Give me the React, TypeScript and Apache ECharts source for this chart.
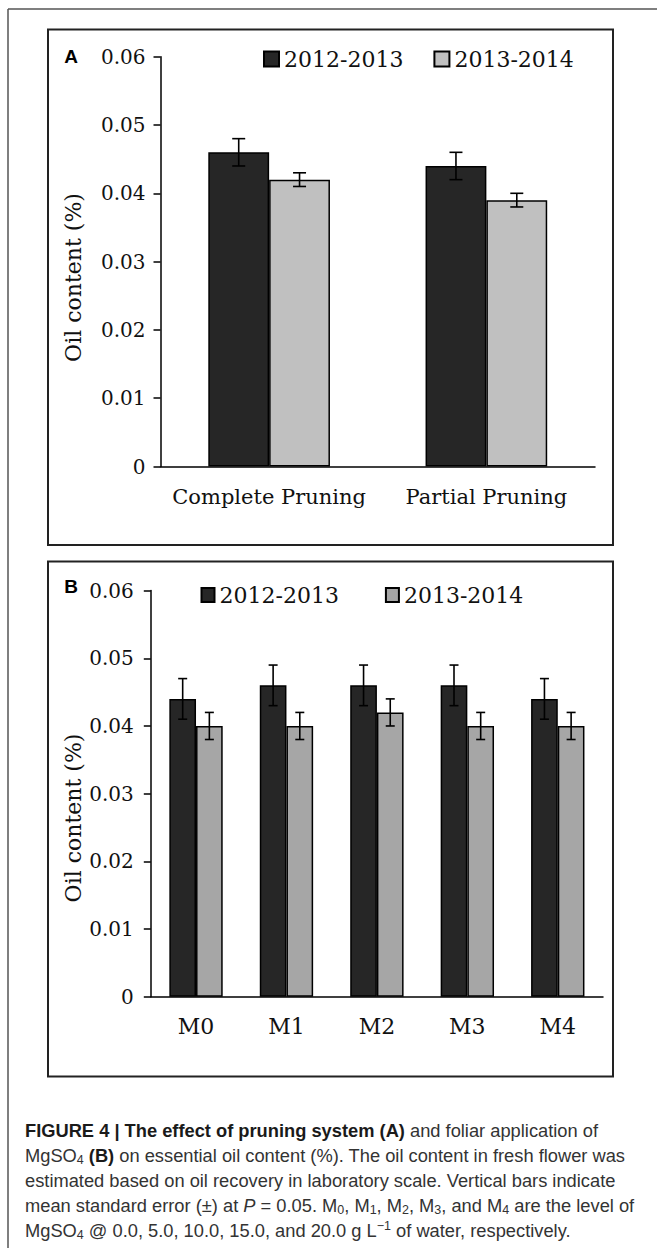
import React, { useEffect, useRef } from "react";
import * as echarts from "echarts";

// ---------- data ----------
const categoriesA = ["Complete Pruning", "Partial Pruning"];
const seasonNames = ["2012-2013", "2013-2014"];
const a2012 = [0.046, 0.044];
const a2012Err = [0.002, 0.002];
const a2013 = [0.042, 0.039];
const a2013Err = [0.001, 0.001];

const categoriesB = ["M0", "M1", "M2", "M3", "M4"];
const b2012 = [0.044, 0.046, 0.046, 0.046, 0.044];
const b2012Err = [0.003, 0.003, 0.003, 0.003, 0.003];
const b2013 = [0.04, 0.04, 0.042, 0.04, 0.04];
const b2013Err = [0.002, 0.002, 0.002, 0.002, 0.002];

const yMin = 0;
const yMax = 0.06;
const yStep = 0.01;

const captionLines = [
  "{b|FIGURE 4 | The effect of pruning system (A)} and foliar application of",
  "MgSO{sub|4} {b|(B)} on essential oil content (%). The oil content in fresh flower was",
  "estimated based on oil recovery in laboratory scale. Vertical bars indicate",
  "mean standard error (±) at {i|P} = 0.05. M{sub|0}, M{sub|1}, M{sub|2}, M{sub|3}, and M{sub|4} are the level of",
  "MgSO{sub|4} @ 0.0, 5.0, 10.0, 15.0, and 20.0 g L{sup|−1} of water, respectively.",
];

// ---------- styles ----------
const SERIF = "DejaVu Serif";
const SANS = "Liberation Sans";
const DARK = "#262626";
const LIGHT_A = "#c0c0c0";
const LIGHT_B = "#a6a6a6";
const GAP_A = 0.44;
const GAP_B = 0.41;
const CAP_FS = 18.3;

function errRenderer(side: number, gap: number, cap: number) {
  return (params: any, api: any) => {
    const idx = api.value(0);
    const v = api.value(1);
    const e = api.value(2);
    const band = api.size([1, 0])[0];
    const bw = (band * (1 - gap)) / 2;
    const c = api.coord([idx, v]);
    const x = c[0] + (side * bw) / 2;
    const yt = api.coord([idx, v + e])[1];
    const yb = api.coord([idx, v - e])[1];
    const style = { stroke: "#000", lineWidth: 1.6 };
    return {
      type: "group",
      children: [
        { type: "line", shape: { x1: x, y1: yt, x2: x, y2: yb }, style },
        { type: "line", shape: { x1: x - cap, y1: yt, x2: x + cap, y2: yt }, style },
        { type: "line", shape: { x1: x - cap, y1: yb, x2: x + cap, y2: yb }, style },
      ],
    };
  };
}

function xAxisCfg(grid: number, data: string[], fontSize: number, margin: number) {
  return {
    type: "category",
    gridIndex: grid,
    data,
    axisLine: { lineStyle: { color: "#000", width: 1.5 } },
    axisTick: { length: 7, lineStyle: { color: "#000", width: 1.5 } },
    axisLabel: { interval: 0, hideOverlap: false, fontFamily: SERIF, fontSize, color: "#111", margin },
  };
}

function yAxisCfg(grid: number, margin: number) {
  return {
    type: "value",
    gridIndex: grid,
    min: yMin,
    max: yMax,
    interval: yStep,
    splitLine: { show: false },
    axisLine: { show: true, lineStyle: { color: "#000", width: 1.5 } },
    axisTick: { show: true, length: 7, lineStyle: { color: "#000", width: 1.5 } },
    axisLabel: {
      fontFamily: SERIF,
      fontSize: 20,
      color: "#111",
      margin,
      formatter: (v: number) => (Math.abs(v) < 1e-9 ? "0" : v.toFixed(2)),
    },
  };
}

function barSeries(name: string, grid: number, data: number[], color: string, gap: number) {
  return {
    type: "bar",
    name,
    xAxisIndex: grid,
    yAxisIndex: grid,
    data,
    barGap: "0%",
    barCategoryGap: Math.round(gap * 100) + "%",
    itemStyle: { color, borderColor: "#000", borderWidth: 1.5 },
  };
}

function errSeries(grid: number, vals: number[], errs: number[], side: number, gap: number, cap: number) {
  return {
    type: "custom",
    xAxisIndex: grid,
    yAxisIndex: grid,
    z: 5,
    renderItem: errRenderer(side, gap, cap),
    encode: { x: 0, y: 1 },
    data: vals.map((v, i) => [i, v, errs[i]]),
  };
}

export default function App() {
  const ref = useRef<HTMLDivElement>(null);
  useEffect(() => {
    document.body.style.margin = "0";
    if (!ref.current) return;
    const chart = echarts.init(ref.current, undefined, { renderer: "svg" });

    const captionGraphics = captionLines.map((t, i) => ({
      type: "text",
      x: 25,
      y: 1130 + i * 25,
      style: {
        text: t,
        fontFamily: SANS,
        fontSize: CAP_FS,
        fill: "#333",
        align: "left",
        verticalAlign: "middle",
        lineHeight: 22,
        rich: {
          b: { fontFamily: SANS, fontSize: CAP_FS, fontWeight: "bold", fill: "#1a1a1a", lineHeight: 22 },
          i: { fontFamily: SANS, fontSize: CAP_FS, fontStyle: "italic", fill: "#333", lineHeight: 22 },
          sub: { fontFamily: SANS, fontSize: 12.5, fill: "#333", lineHeight: 12, verticalAlign: "bottom" },
          sup: { fontFamily: SANS, fontSize: 12.5, fill: "#333", lineHeight: 16, verticalAlign: "top" },
        },
      },
    }));

    const option: any = {
      animation: false,
      backgroundColor: "#fff",
      textStyle: { fontFamily: SERIF },
      grid: [
        { left: 160.5, top: 56.7, width: 434.5, height: 409.8, outerBoundsMode: "none", containLabel: false },
        { left: 150.8, top: 590.6, width: 452.2, height: 406.1, outerBoundsMode: "none", containLabel: false },
      ],
      xAxis: [xAxisCfg(0, categoriesA, 21, 20), xAxisCfg(1, categoriesB, 22, 19)],
      yAxis: [yAxisCfg(0, 15), yAxisCfg(1, 17)],
      legend: [
        {
          left: 263,
          top: 48,
          padding: 0,
          itemWidth: 15,
          itemHeight: 15,
          itemGap: 30,
          icon: "rect",
          selectedMode: false,
          data: [
            { name: seasonNames[0], itemStyle: { color: DARK } },
            { name: seasonNames[1], itemStyle: { color: LIGHT_A } },
          ],
          textStyle: { fontFamily: SERIF, fontSize: 22, color: "#111" },
        },
        {
          left: 200.5,
          top: 584,
          padding: 0,
          itemWidth: 13,
          itemHeight: 14,
          itemGap: 46,
          icon: "rect",
          selectedMode: false,
          data: [
            { name: seasonNames[0], itemStyle: { color: DARK } },
            { name: seasonNames[1], itemStyle: { color: LIGHT_B } },
          ],
          textStyle: { fontFamily: SERIF, fontSize: 22, color: "#111" },
        },
      ],
      series: [
        barSeries(seasonNames[0], 0, a2012, DARK, GAP_A),
        barSeries(seasonNames[1], 0, a2013, LIGHT_A, GAP_A),
        barSeries(seasonNames[0], 1, b2012, DARK, GAP_B),
        barSeries(seasonNames[1], 1, b2013, LIGHT_B, GAP_B),
        errSeries(0, a2012, a2012Err, -1, GAP_A, 6.5),
        errSeries(0, a2013, a2013Err, 1, GAP_A, 6.5),
        errSeries(1, b2012, b2012Err, -1, GAP_B, 4.5),
        errSeries(1, b2013, b2013Err, 1, GAP_B, 4.5),
      ],
      graphic: [
        { type: "line", shape: { x1: 8, y1: 9, x2: 657, y2: 9 }, style: { stroke: "#555", lineWidth: 1.5 } },
        { type: "line", shape: { x1: 8, y1: 9, x2: 8, y2: 1248 }, style: { stroke: "#555", lineWidth: 1.5 } },
        { type: "rect", shape: { x: 48, y: 29.5, width: 565, height: 515.5 }, style: { fill: "none", stroke: "#222", lineWidth: 2 } },
        { type: "rect", shape: { x: 48, y: 561.5, width: 565, height: 515 }, style: { fill: "none", stroke: "#222", lineWidth: 2 } },
        { type: "text", x: 71, y: 56, style: { text: "A", fontFamily: SANS, fontWeight: "bold", fontSize: 19, fill: "#000", align: "center", verticalAlign: "middle" } },
        { type: "text", x: 71, y: 586.5, style: { text: "B", fontFamily: SANS, fontWeight: "bold", fontSize: 19, fill: "#000", align: "center", verticalAlign: "middle" } },
        { type: "text", x: 73, y: 277.5, rotation: Math.PI / 2, style: { text: "Oil content (%)", fontFamily: SERIF, fontSize: 22, fill: "#111", align: "center", verticalAlign: "middle" } },
        { type: "text", x: 73, y: 818, rotation: Math.PI / 2, style: { text: "Oil content (%)", fontFamily: SERIF, fontSize: 22, fill: "#111", align: "center", verticalAlign: "middle" } },
        ...captionGraphics,
      ],
    };
    chart.setOption(option);
    return () => chart.dispose();
  }, []);
  return <div ref={ref} style={{ width: 657, height: 1248 }} />;
}
